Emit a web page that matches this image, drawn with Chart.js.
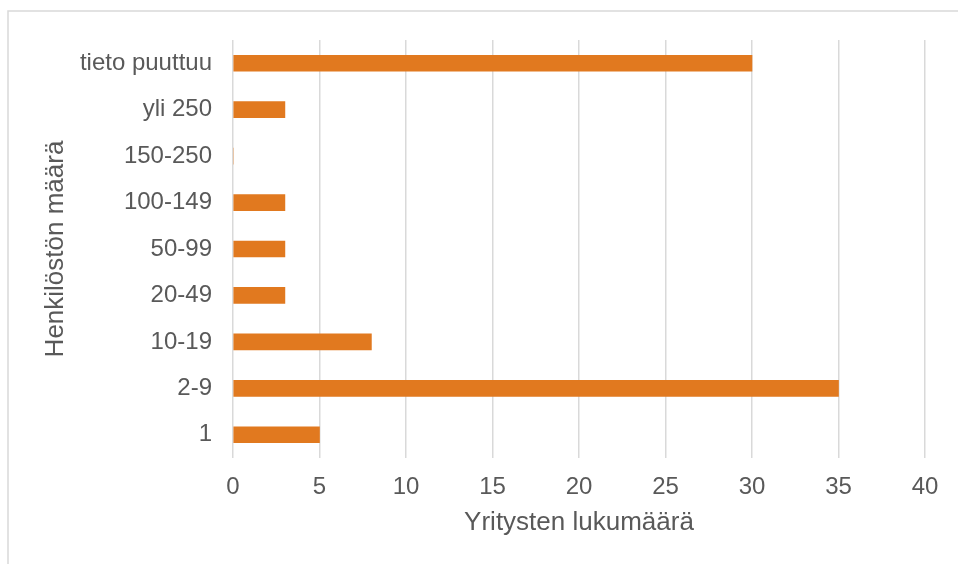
<!DOCTYPE html>
<html>
<head>
<meta charset="utf-8">
<script src="https://cdn.jsdelivr.net/npm/chart.js@4.4.1/dist/chart.umd.min.js"></script>
<style>
    html, body { margin: 0; padding: 0; background: #fff; }
    #wrap { width: 958px; height: 564px; position: relative; }
</style>
</head>
<body>
<div id="wrap"><canvas id="chart"></canvas></div>
<script>
// Henkilöstön määrä -luokat (alhaalta ylös kuvassa)
const categories = ['tieto puuttuu', 'yli 250', '150-250', '100-149', '50-99', '20-49', '10-19', '2-9', '1'];
const companyCounts = [30, 3, 0, 3, 3, 3, 8, 35, 5];
const xTicks = [0, 5, 10, 15, 20, 25, 30, 35, 40];

const textColor = '#595959';
const gridColor = '#d9d9d9';
const fontFamily = '"Liberation Sans", Arial, sans-serif';

// Kehys koko kaavion ympärille
const frame = {
    id: 'frame',
    beforeDraw(chart) {
        const ctx = chart.ctx;
        ctx.save();
        ctx.fillStyle = '#fff';
        ctx.fillRect(0, 0, chart.width, chart.height);
        ctx.strokeStyle = gridColor;
        ctx.lineWidth = 1.5;
        ctx.strokeRect(8, 11, chart.width + 10, chart.height + 10);
        ctx.restore();
    }
};

new Chart(document.getElementById('chart'), {
    type: 'bar',
    data: {
        labels: categories,
        datasets: [{
            data: companyCounts,
            backgroundColor: '#e1791f',
            barThickness: 16
        }]
    },
    options: {
        indexAxis: 'y',
        responsive: true,
        maintainAspectRatio: false,
        animation: false,
        layout: { padding: { top: 40, right: 33, left: 0, bottom: 0 } },
        plugins: {
            legend: { display: false },
            tooltip: { enabled: false }
        },
        scales: {
            x: {
                min: 0,
                max: 40,
                afterBuildTicks: (scale) => { scale.ticks = xTicks.map(v => ({ value: v })); },
                afterFit: (scale) => { scale.height = 106; },
                grid: { color: gridColor, lineWidth: 1.5, drawTicks: false },
                border: { display: false },
                ticks: { color: textColor, padding: 15, font: { family: fontFamily, size: 24 } },
                title: {
                    display: true,
                    text: 'Yritysten lukumäärä',
                    color: textColor,
                    font: { family: fontFamily, size: 26 },
                    padding: { top: 0, bottom: 26 }
                }
            },
            y: {
                afterFit: (scale) => { scale.width = 233; },
                grid: { display: false, drawTicks: false },
                border: { display: false },
                ticks: { color: textColor, padding: 21, font: { family: fontFamily, size: 24 } },
                title: {
                    display: true,
                    text: 'Henkilöstön määrä',
                    color: textColor,
                    font: { family: fontFamily, size: 26 },
                    padding: { top: 40, bottom: 0 }
                }
            }
        }
    },
    plugins: [frame]
});
</script>
</body>
</html>
